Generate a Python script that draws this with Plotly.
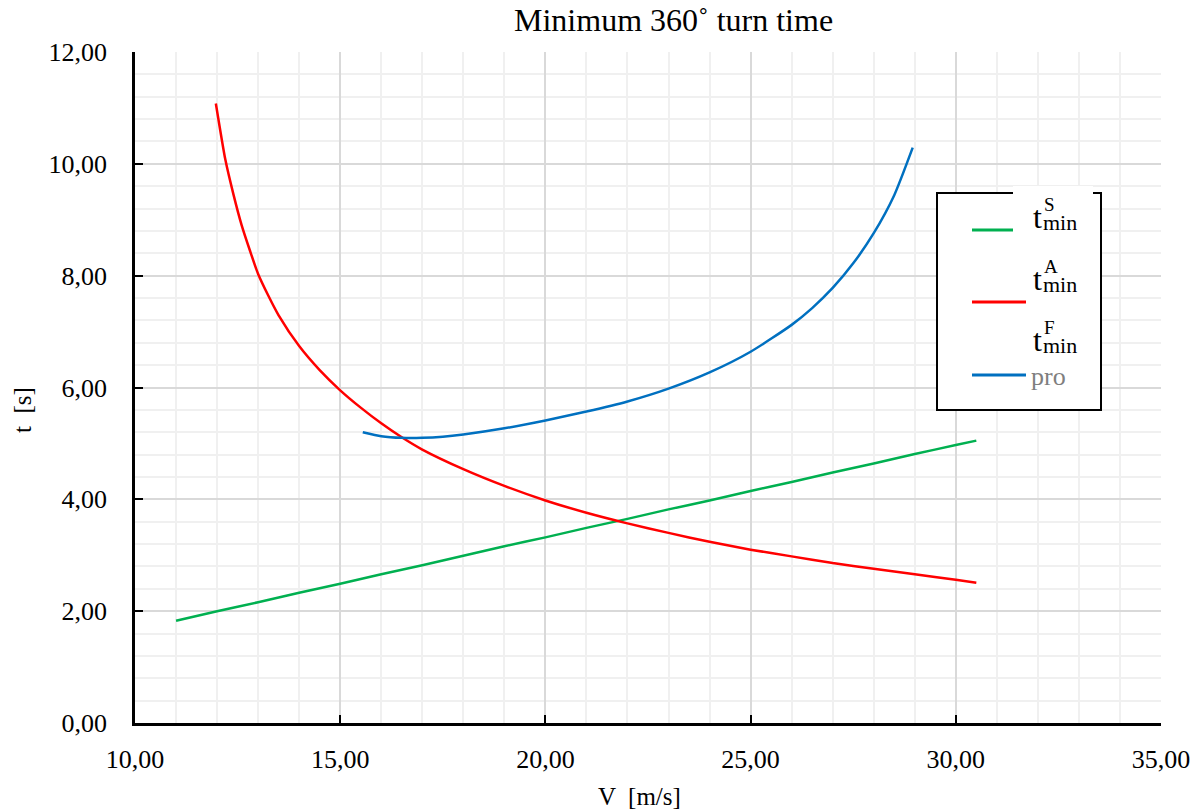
import plotly.graph_objects as go

# Series: minimum 360-degree turn time versus airspeed
v_s = [11.0, 12.0, 13.0, 14.0, 15.0, 16.0, 17.0, 18.0, 19.0, 20.0, 21.0,
       22.0, 23.0, 24.0, 25.0, 26.0, 27.0, 28.0, 29.0, 30.0, 30.5]
t_s = [1.83, 2.00, 2.16, 2.33, 2.49, 2.66, 2.82, 2.99, 3.16, 3.32, 3.49,
       3.65, 3.82, 3.98, 4.15, 4.31, 4.48, 4.64, 4.81, 4.97, 5.05]

v_a = [11.97, 12.2, 12.4, 12.6, 12.8, 13.0, 13.25, 13.5, 14.0, 14.5, 15.0,
       15.5, 16.0, 16.5, 17.0, 18.0, 19.0, 20.0, 21.0, 22.0, 23.0, 24.0,
       25.0, 26.0, 27.0, 28.0, 29.0, 30.0, 30.5]
t_a = [11.08, 10.08, 9.45, 8.90, 8.45, 8.03, 7.64, 7.29, 6.74, 6.31, 5.95,
       5.64, 5.36, 5.11, 4.89, 4.54, 4.24, 3.98, 3.76, 3.57, 3.40, 3.24,
       3.10, 2.98, 2.86, 2.76, 2.66, 2.56, 2.51]

v_f = [15.55, 16.0, 16.5, 17.0, 17.5, 18.0, 19.0, 20.0, 21.0, 22.0, 23.0,
       24.0, 25.0, 26.0, 26.5, 27.0, 27.5, 28.0, 28.5, 28.95]
t_f = [5.20, 5.13, 5.10, 5.10, 5.12, 5.16, 5.27, 5.41, 5.57, 5.75, 5.98,
       6.27, 6.64, 7.12, 7.42, 7.78, 8.22, 8.76, 9.44, 10.29]

series_names = ["S", "A", "F"]
series_colors = ["#00b050", "#ff0000", "#0070c0"]

x_ticks = [10, 15, 20, 25, 30, 35]
y_ticks = [0, 2, 4, 6, 8, 10, 12]

SERIF = "Liberation Serif"

fig = go.Figure()
for (vx, ty), name, col in zip([(v_s, t_s), (v_a, t_a), (v_f, t_f)],
                               series_names, series_colors):
    fig.add_trace(go.Scatter(x=vx, y=ty, mode="lines", name=name,
                             line=dict(color=col, width=2.5, shape="spline",
                                       smoothing=0.6),
                             showlegend=False, hoverinfo="x+y"))

W, H = 1204, 811
L, R, T, B = 135, 43, 52, 88
pw, ph = W - L - R, H - T - B


def px(x):
    return (x - L) / pw


def py(y):
    return (H - B - y) / ph


fig.update_layout(
    width=W, height=H,
    margin=dict(l=L, r=R, t=T, b=B),
    paper_bgcolor="white", plot_bgcolor="white",
    separators=", ",
    font=dict(family=SERIF, size=26, color="black"),
    xaxis=dict(range=[10, 35], tickvals=x_ticks, tickformat=".2f",
               tickfont=dict(family=SERIF, size=26), automargin=False,
               showgrid=True, gridcolor="#d9d9d9", gridwidth=1.5,
               minor=dict(dtick=1, showgrid=True, gridcolor="#f0f0f0",
                          gridwidth=1.5, ticks=""),
               showline=True, linecolor="black", linewidth=2.5,
               ticks="inside", ticklen=8, tickwidth=2, tickcolor="black",
               ticklabelstandoff=11, zeroline=False),
    yaxis=dict(range=[0, 12], tickvals=y_ticks, tickformat=".2f",
               tickfont=dict(family=SERIF, size=26), automargin=False,
               showgrid=True, gridcolor="#d9d9d9", gridwidth=1.5,
               minor=dict(dtick=0.4, tick0=0, showgrid=True,
                          gridcolor="#f0f0f0", gridwidth=1.5, ticks=""),
               showline=True, linecolor="black", linewidth=2.5,
               ticks="inside", ticklen=8, tickwidth=2, tickcolor="black",
               ticklabelstandoff=20, zeroline=False),
)

ann = []
# chart title and axis titles
ann.append(dict(text="Minimum 360˚ turn time", x=px(673), y=py(20),
                xref="paper", yref="paper", showarrow=False,
                xanchor="center", yanchor="middle",
                font=dict(size=32, family=SERIF)))
ann.append(dict(text="V  [m/s]", x=px(639), y=py(796), xref="paper",
                yref="paper", showarrow=False, xanchor="center",
                yanchor="middle", font=dict(size=25, family=SERIF)))
ann.append(dict(text="t  [s]", x=px(22), y=py(410), xref="paper",
                yref="paper", showarrow=False, textangle=-90,
                xanchor="center", yanchor="middle",
                font=dict(size=25, family=SERIF)))

shapes = []
# legend frame
shapes.append(dict(type="rect", xref="paper", yref="paper",
                   x0=px(937), x1=px(1101), y0=py(410), y1=py(193),
                   line=dict(color="black", width=2), fillcolor="white",
                   layer="above"))
# gap in the upper frame edge
shapes.append(dict(type="rect", xref="paper", yref="paper",
                   x0=px(1013), x1=px(1093), y0=py(238), y1=py(186),
                   line=dict(width=0), fillcolor="white", layer="above"))

legend_rows = [(230, 1013, 217), (302, 1026, 279), (375, 1026, 340)]
for (ly, lx1, ty), name, col in zip(legend_rows, series_names, series_colors):
    shapes.append(dict(type="line", xref="paper", yref="paper",
                       x0=px(972), x1=px(lx1), y0=py(ly), y1=py(ly),
                       line=dict(color=col, width=3), layer="above"))
    ann.append(dict(text="t", x=px(1031), y=py(ty), xref="paper", yref="paper",
                    xanchor="left", yanchor="middle", showarrow=False,
                    font=dict(size=32, family=SERIF)))
    ann.append(dict(text=name, x=px(1042), y=py(ty - 13), xref="paper",
                    yref="paper", xanchor="left", yanchor="middle",
                    showarrow=False, font=dict(size=19, family=SERIF)))
    ann.append(dict(text="min", x=px(1041), y=py(ty + 5), xref="paper",
                    yref="paper", xanchor="left", yanchor="middle",
                    showarrow=False, font=dict(size=22, family=SERIF)))

ann.append(dict(text="pro", x=px(1029), y=py(376), xref="paper", yref="paper",
                xanchor="left", yanchor="middle", showarrow=False,
                font=dict(size=26, family=SERIF, color="#7f7f7f")))

fig.update_layout(annotations=ann, shapes=shapes)
fig.write_html("out.html")
